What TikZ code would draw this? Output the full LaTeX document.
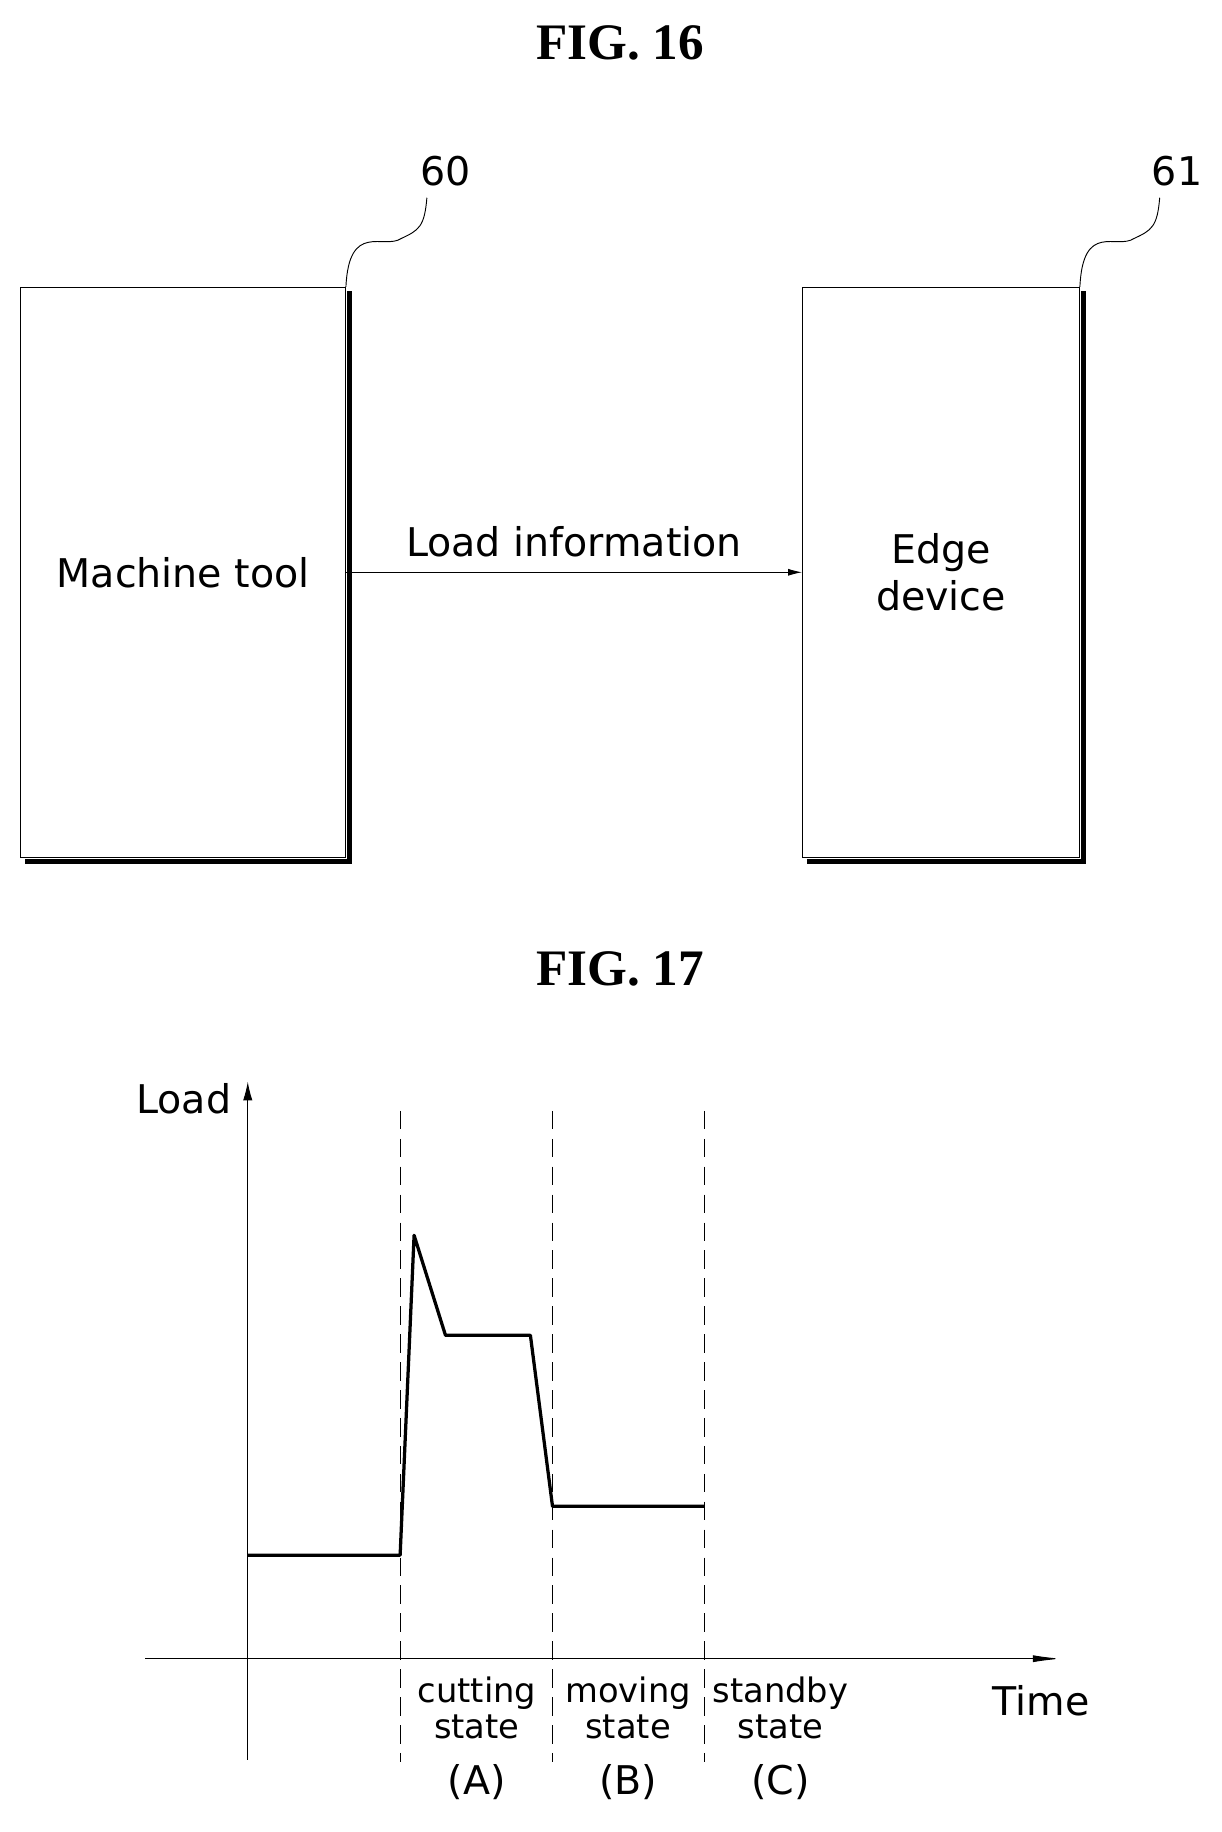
\documentclass[tikz,border=0pt]{standalone}
\usepackage{fontspec}
\setmainfont{DejaVu Sans}
\newfontfamily\figfont{Liberation Serif}
\usetikzlibrary{arrows.meta}

\tikzset{
    figtitle/.style={font=\figfont\bfseries\fontsize{22}{24}\selectfont},
    lbl/.style={font=\fontsize{17}{18}\selectfont},
    small/.style={font=\fontsize{14.5}{15.5}\selectfont, align=center, inner sep=0pt},
    blk/.style={draw, thin, minimum width=139.5pt, minimum height=245pt, inner sep=0pt},
}

\begin{document}
\begin{tikzpicture}[x=0.5pt, y=-0.5pt]
    \useasboundingbox (0,0) rectangle (1050,1575);

    % FIG. 16
    \node[figtitle] (t16) at (533,37) {FIG. 16};
    \node[blk, minimum width=139.5pt] (mt) at (157.5,492) {};
    \node[blk, minimum width=119pt] (ed) at (809,492) {};
    \foreach \b in {mt, ed}
        \draw[line width=2pt] ([shift={(2pt,-1.5pt)}]\b.south west) -- ([shift={(1.5pt,-1.5pt)}]\b.south east)
            -- ([shift={(1.5pt,-2pt)}]\b.north east);
    \node[lbl] at (mt.center) {Machine tool};
    \node[lbl, align=center, font=\fontsize{17}{20}\selectfont] at (ed.center) {Edge\\device};

    \node[lbl] (n60) at (383,147) {60};
    \node[lbl] (n61) at (1012,147) {61};
    \draw[thin] (mt.north east) .. controls (300,190) and (330,215) .. (345,205)
        .. controls (360,198) and (365,195) .. (367,170);
    \draw[thin] (ed.north east) .. controls (931,190) and (960,215) .. (975,205)
        .. controls (990,198) and (995,195) .. (997,170);

    \draw[thin, -{Latex[length=6pt, width=3pt]}] (mt.east) -- (ed.west)
        node[lbl, midway, above=3pt] {Load information};

    % FIG. 17
    \node[figtitle] (t17) at (533,833) {FIG. 17};
    \coordinate (ytop) at (213,930);
    \coordinate (ybot) at (213,1513);
    \coordinate (xl) at (125,1426);
    \coordinate (xr) at (912,1426);
    \draw[thin, -{Latex[length=8pt, width=4pt]}] (ybot) -- (ytop);
    \draw[thin, -{Latex[length=12pt, width=3pt]}] (xl) -- (xr);
    \node[lbl] (load) at (158,945) {Load};
    \node[lbl] (time) at (895,1462) {Time};

    \foreach \x in {344, 475, 606}
        \draw[thin, dash pattern=on 8pt off 4pt] (\x,955) -- (\x,1515);

    \draw[line width=1.4pt, line join=round]
        (213,1337) -- (344,1337) -- (356,1062) -- (383,1148) -- (456,1148)
        -- (475,1295) -- (606,1295);

    \node[small] (sa) at (410,1468) {cutting\\state};
    \node[small] (sb) at (540,1468) {moving\\state};
    \node[small] (sc) at (671,1468) {standby\\state};
    \node[lbl] (ca) at (410,1532) {(A)};
    \node[lbl] (cb) at (540,1532) {(B)};
    \node[lbl] (cc) at (671,1532) {(C)};
\end{tikzpicture}
\end{document}
